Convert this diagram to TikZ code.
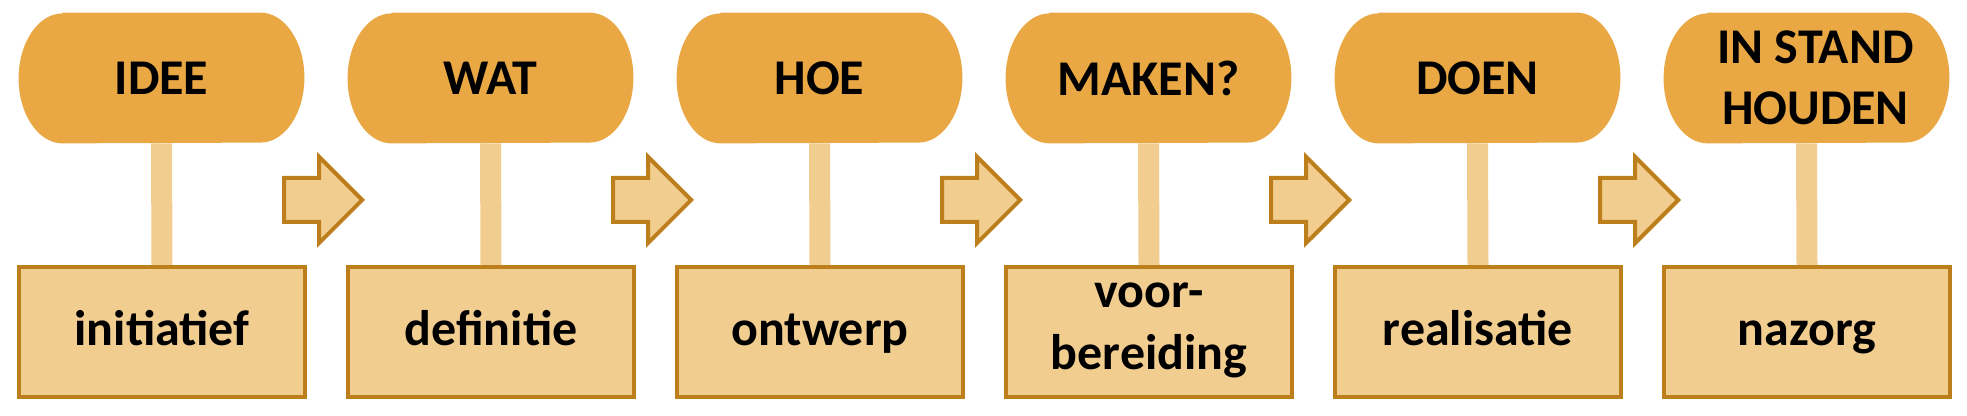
\documentclass[tikz,border=0pt]{standalone}
\usepackage{fontspec}
\setmainfont{Carlito}
\usetikzlibrary{shapes.arrows,backgrounds}

\definecolor{pillorange}{HTML}{E9A843}
\definecolor{lightsand}{HTML}{F2CD90}
\definecolor{darkochre}{HTML}{BC7F1B}

\newcommand{\stagestrut}{\rule[-6pt]{0pt}{26pt}}

\tikzset{
  phase/.style={minimum width=142.5pt,minimum height=65pt,inner sep=0pt,align=center,
    font=\fontsize{25}{30.5}\selectfont\bfseries},
  stage/.style={draw=darkochre,fill=lightsand,line width=2pt,minimum width=143pt,
    minimum height=65pt,inner sep=0pt,align=center,font=\fontsize{25}{31}\selectfont\bfseries,
    execute at begin node=\stagestrut,execute at end node=\stagestrut},
  stem/.style={lightsand,line width=10.5pt},
  flow/.style={single arrow,draw=darkochre,fill=lightsand,line width=2pt,inner xsep=0pt,
    inner ysep=10pt,minimum height=39pt,single arrow head extend=10.5pt,anchor=tip}
}

% pill behind a phase node
\newcommand{\pillfill}[1]{%
  \fill[pillorange] ([xshift=22pt]#1.north west) -- ([xshift=-22pt]#1.north east)
    arc[start angle=90,end angle=-90,x radius=22pt,y radius=32.5pt]
    -- ([xshift=22pt]#1.south west)
    arc[start angle=270,end angle=90,x radius=22pt,y radius=32.5pt] -- cycle;}

\begin{document}
\begin{tikzpicture}[x=0.5pt,y=0.5pt]
\useasboundingbox (0,0) rectangle (1967,416);

\node[phase] (idee) at (161.5,338) {IDEE};
\node[phase] (wat) at (490.5,338) {WAT};
\node[phase] (hoe) at (819.5,338) {HOE};
\node[phase] (maken) at (1148.5,338) {MAKEN?};
\node[phase] (doen) at (1477.5,338) {DOEN};
\node[phase] (instand) at (1806.5,338) {\hspace*{9pt}IN STAND\\\hspace*{9pt}HOUDEN};

\node[stage] (initiatief) at (162,84) {initiatief};
\node[stage] (definitie) at (491,84) {definitie};
\node[stage] (ontwerp) at (820,84) {ontwerp};
\node[stage] (voorbereiding) at (1149,84) {voor-\\bereiding};
\node[stage] (realisatie) at (1478,84) {realisatie};
\node[stage] (nazorg) at (1807,84) {nazorg};

\begin{scope}[on background layer]
\pillfill{idee}
\pillfill{wat}
\pillfill{hoe}
\pillfill{maken}
\pillfill{doen}
\pillfill{instand}

\draw[stem] (idee.south) -- (initiatief.north);
\draw[stem] (wat.south) -- (definitie.north);
\draw[stem] (hoe.south) -- (ontwerp.north);
\draw[stem] (maken.south) -- (voorbereiding.north);
\draw[stem] (doen.south) -- (realisatie.north);
\draw[stem] (instand.south) -- (nazorg.north);
\end{scope}

\node[flow] (arr1) at (365,216) {};
\node[flow] (arr2) at (694,216) {};
\node[flow] (arr3) at (1023,216) {};
\node[flow] (arr4) at (1352,216) {};
\node[flow] (arr5) at (1681,216) {};
\end{tikzpicture}
\end{document}
